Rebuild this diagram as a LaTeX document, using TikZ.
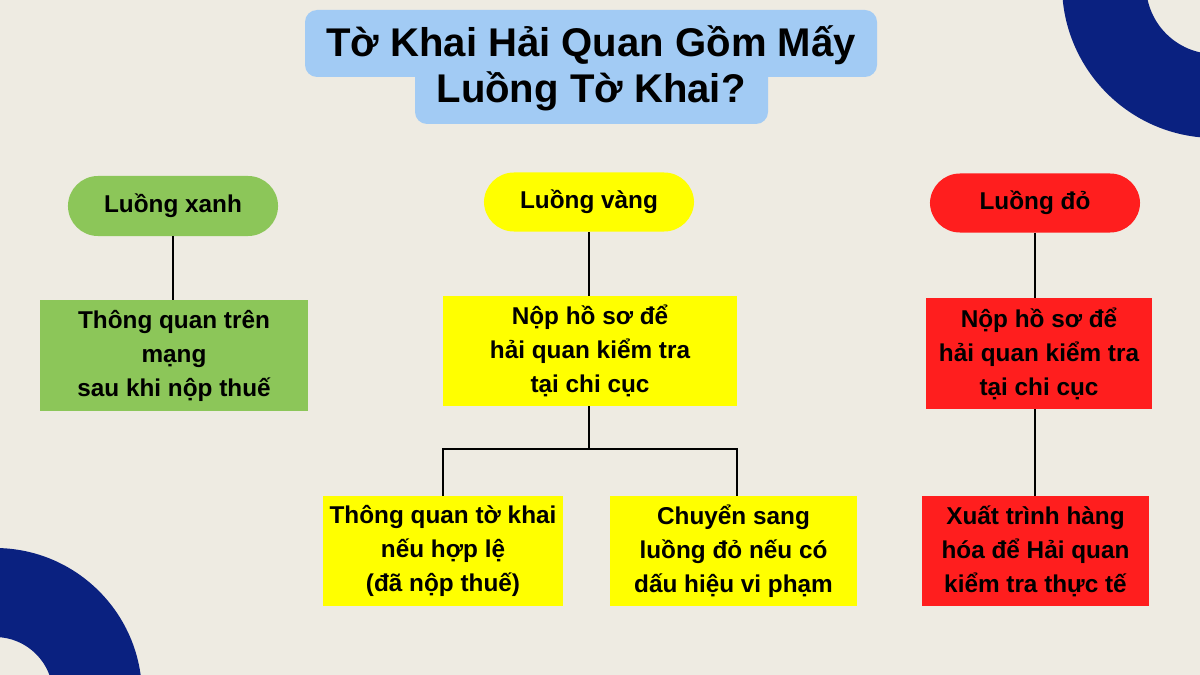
\documentclass[tikz,border=0pt]{standalone}
\usepackage{fontspec}
\setmainfont{Liberation Sans}
\usetikzlibrary{positioning}
\definecolor{bgbeige}{HTML}{EEEBE2}
\definecolor{ringnavy}{HTML}{0A2180}
\definecolor{titleblue}{HTML}{A2CBF4}
\definecolor{xanhgreen}{HTML}{8CC659}
\definecolor{vangyellow}{HTML}{FFFF00}
\definecolor{dored}{HTML}{FF1E1E}
\tikzset{
  lane/.style={rounded corners=0.75cm, inner sep=0pt, minimum width=5.25cm, minimum height=1.5cm,
    font=\fontsize{17.3}{24.2}\selectfont\bfseries},
  stepbox/.style={inner sep=0pt, align=center, font=\fontsize{17.3}{24.2}\selectfont\bfseries},
  link/.style={line width=1.9pt, black}
}
\begin{document}
\begin{tikzpicture}[x=0.025cm,y=-0.025cm]
    % background and corner rings
    \fill[bgbeige] (0,0) rectangle (1200,675);
    \begin{scope}
    \clip (0,0) rectangle (1200,675);
    \fill[ringnavy, even odd rule] (1215,-15) circle (153) (1215,-15) circle (69);
    \fill[ringnavy, even odd rule] (-5,695) circle (147) (-5,695) circle (58);
    \end{scope}

    % title
    \fill[titleblue, rounded corners=0.3cm] (305,10) rectangle (877,77);
    \fill[titleblue, rounded corners=0.3cm] (415,50) rectangle (768,124);
    \node[align=center, font=\fontsize{28.5}{32.7}\selectfont\bfseries] (title) at (591,68)
        {Tờ Khai Hải Quan Gồm Mấy\\Luồng Tờ Khai?};

    % luong xanh
    \node[lane, fill=xanhgreen] (xanh) at (173,206) {Luồng xanh};
    \node[stepbox, fill=xanhgreen, minimum width=6.7cm, minimum height=2.775cm] (xanhbox) at (174,355.5)
        {Thông quan trên\\mạng\\sau khi nộp thuế};
    \draw[link] (xanh.south) -- (xanh.south |- xanhbox.north);

    % luong vang
    \node[lane, fill=vangyellow, minimum height=1.475cm] (vang) at (589,202) {Luồng vàng};
    \node[stepbox, fill=vangyellow, minimum width=7.325cm, minimum height=2.75cm] (vangbox) at (590,351)
        {Nộp hồ sơ để\\hải quan kiểm tra\\tại chi cục};
    \node[stepbox, fill=vangyellow, minimum width=6cm, minimum height=2.75cm] (vangok) at (443,551)
        {Thông quan tờ khai\\nếu hợp lệ\\(đã nộp thuế)};
    \node[stepbox, fill=vangyellow, minimum width=6.175cm, minimum height=2.75cm] (vangdo) at (733.5,551)
        {Chuyển sang\\luồng đỏ nếu có\\dấu hiệu vi phạm};
    \draw[link] (vang.south) -- (vang.south |- vangbox.north);
    \coordinate (fork) at (589,449);
    \draw[link] (vangbox.south -| fork) -- (fork);
    \draw[link] (fork) -| (vangok.north);
    \draw[link] (fork) -| ([xshift=2.5]vangdo.north);

    % luong do
    \node[lane, fill=dored, minimum height=1.475cm] (do) at (1035,203) {Luồng đỏ};
    \node[stepbox, fill=dored, minimum width=5.65cm, minimum height=2.775cm] (dobox) at (1039,353.5)
        {Nộp hồ sơ để\\hải quan kiểm tra\\tại chi cục};
    \node[stepbox, fill=dored, minimum width=5.675cm, minimum height=2.75cm] (dokiem) at (1035.5,551)
        {Xuất trình hàng\\hóa để Hải quan\\kiểm tra thực tế};
    \draw[link] (do.south) -- (do.south |- dobox.north);
    \draw[link] (do.south |- dobox.south) -- (do.south |- dokiem.north);
\end{tikzpicture}
\end{document}
